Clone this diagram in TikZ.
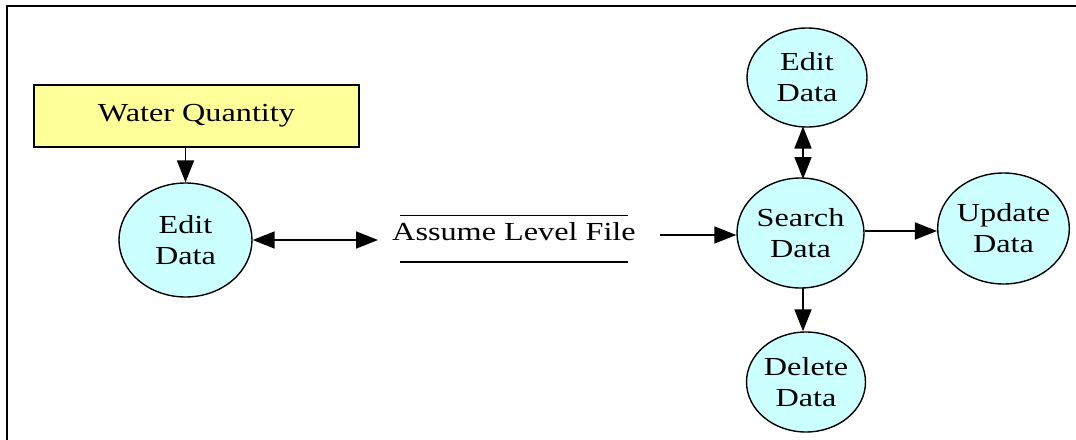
\documentclass[tikz,border=0pt]{standalone}
\usepackage{fontspec}
\setmainfont[FakeStretch=1.24]{Liberation Serif}
\usetikzlibrary{shapes.geometric,arrows.meta,calc}
\definecolor{procfill}{HTML}{CCFFFF}
\definecolor{extfill}{HTML}{FFFF99}
\begin{document}
\begin{tikzpicture}[x=1pt,y=-1pt,
  every node/.style={font=\fontsize{26}{31}\selectfont},
  proc/.style={ellipse,draw,line width=1.4pt,fill=procfill,inner sep=0pt,align=center},
  extent/.style={rectangle,draw,line width=1.4pt,fill=extfill,inner sep=0pt},
  store/.style={rectangle,inner sep=0pt,text depth=15pt,
    path picture={\draw[line width=1.6pt]
      ($(path picture bounding box.north)+(-114pt,0)$) -- ($(path picture bounding box.north)+(114pt,0)$)
      ($(path picture bounding box.south)+(-114pt,0)$) -- ($(path picture bounding box.south)+(114pt,0)$);}},
  flow/.style={line width=1.7pt,-{Triangle[length=22pt,width=17pt]}},
  bflow/.style={line width=1.7pt,{Triangle[length=22pt,width=17pt]}-{Triangle[length=22pt,width=17pt]}}
]
\useasboundingbox (0,0) rectangle (1076,439);
\draw[line width=2pt] (7,440) -- (7,6) -- (1077,6);

\node[extent,minimum width=325pt,minimum height=62pt] (wq) at (196.5,116) {Water Quantity};
\node[proc,minimum width=133pt,minimum height=114pt] (ed1) at (185.5,240) {Edit\\Data};
\node[store,minimum width=228pt,minimum height=47pt] (assume) at (514,238.5) {Assume Level File};
\node[proc,minimum width=127pt,minimum height=110pt] (search) at (800.5,233) {Search\\Data};
\node[proc,minimum width=120pt,minimum height=99pt] (ed2) at (807,77.5) {Edit\\Data};
\node[proc,minimum width=127pt,minimum height=111pt] (upd) at (1003.5,228.5) {Update\\Data};
\node[proc,minimum width=116pt,minimum height=100pt] (del) at (806,382) {Delete\\Data};

\draw[flow] (wq.south -| ed1.north) -- (ed1.north);
\coordinate (a0) at ($(assume.center)+(-136,0)$);
\draw[bflow] (ed1.east) -- (a0 |- ed1.east);
\coordinate (a1) at ($(assume.center)+(146,-3.5)$);
\draw[flow] (a1) -- (a1 -| search.west);
\coordinate (s1) at ($(search.east)+(0,-2)$);
\draw[flow] (s1) -- (s1 -| upd.west);
\coordinate (c1) at (803,126.5);
\coordinate (c2) at (803,179);
\draw[bflow] (c1) -- (c2);
\coordinate (c3) at (803,288);
\draw[flow] (c3) -- (c3 |- del.north);
\end{tikzpicture}
\end{document}
